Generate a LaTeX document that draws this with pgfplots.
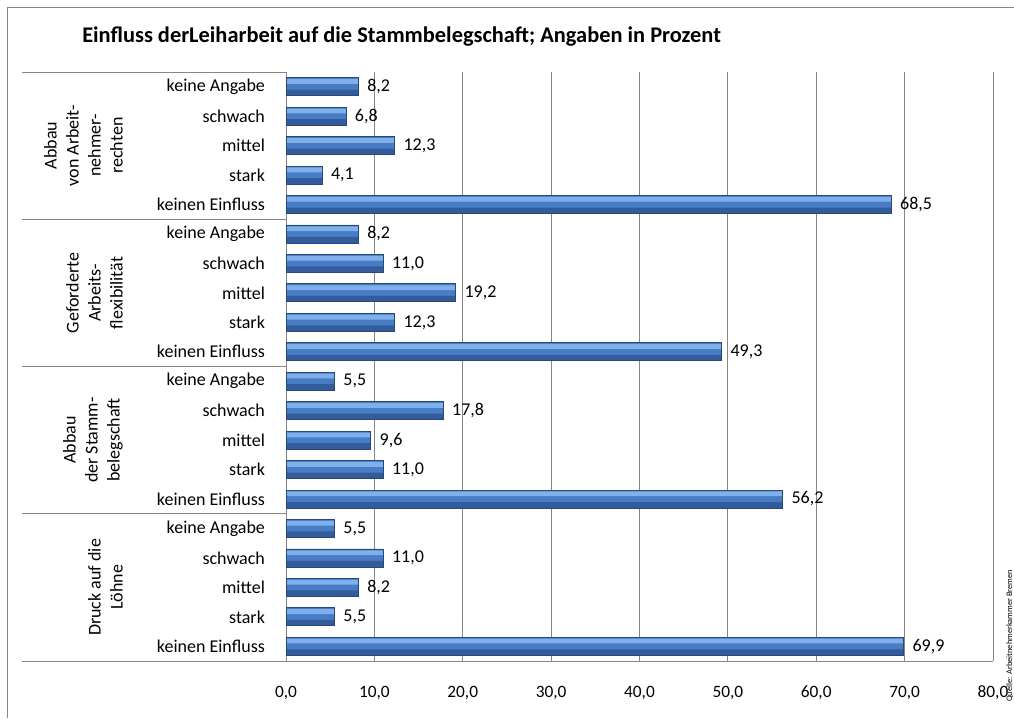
\documentclass[border=0pt]{standalone}
\usepackage{pgfplots}
\pgfplotsset{compat=1.18}
\usepackage{pgfplotstable}
\usepackage{fontspec}
\setmainfont{Carlito}
\pgfkeys{/pgf/number format/assume math mode=true}
\definecolor{barLight}{RGB}{128,176,235}
\definecolor{barMid}{RGB}{72,124,196}
\definecolor{barBot}{RGB}{50,92,155}
\definecolor{barEdge}{RGB}{40,72,120}
\definecolor{gridc}{RGB}{134,134,134}
\pgfplotstableread{
y x
0 8.2
1 6.8
2 12.3
3 4.1
4 68.5
5 8.2
6 11.0
7 19.2
8 12.3
9 49.3
10 5.5
11 17.8
12 9.6
13 11.0
14 56.2
15 5.5
16 11.0
17 8.2
18 5.5
19 69.9
}\datatab
\begin{document}
\begin{tikzpicture}
\path[use as bounding box] (0,0) rectangle (760.5pt,-538.5pt);
\begin{axis}[
  at={(214.5pt,-495.75pt)}, anchor=south west,
  scale only axis, width=530.25pt, height=441.75pt,
  xbar,
  xmin=0, xmax=80, ymin=-0.5, ymax=19.5, y dir=reverse,
  enlargelimits=false,
  axis x line*=bottom, axis y line*=left,
  axis line style={gridc, line width=0.75pt, -},
  xtick={0,10,...,80}, ytick={0,...,19},
  yticklabels={keine Angabe,schwach,mittel,stark,keinen Einfluss,
               keine Angabe,schwach,mittel,stark,keinen Einfluss,
               keine Angabe,schwach,mittel,stark,keinen Einfluss,
               keine Angabe,schwach,mittel,stark,keinen Einfluss},
  xmajorgrids, major grid style={gridc, line width=0.75pt},
  tick style={draw=none},
  /pgf/number format/fixed, /pgf/number format/fixed zerofill,
  /pgf/number format/precision=1, /pgf/number format/use comma,
  xticklabel style={font=\fontsize{13}{15}\selectfont, anchor=center, yshift=-24pt},
  yticklabel style={font=\fontsize{13.5}{15}\selectfont, xshift=-8pt},
  point meta=x,
]
% base fill
\addplot[xbar, bar width=13.5pt, bar shift=0pt, draw=none, fill=barMid] table[x=x, y=y] {\datatab};
% lower darker band
\addplot[xbar, bar width=4.5pt, bar shift=-4.5pt, draw=none, fill=barBot] table[x=x, y=y] {\datatab};
% upper light band
\addplot[xbar, bar width=3.6pt, bar shift=3.9pt, draw=none, fill=barLight] table[x=x, y=y] {\datatab};
% outline + labels
\addplot[xbar, bar width=13.5pt, bar shift=0pt, draw=barEdge, line width=0.6pt, fill=none,
  nodes near coords,
  nodes near coords style={font=\fontsize{13.5}{15}\selectfont, anchor=west, xshift=3pt, text=black}]
  table[x=x, y=y] {\datatab};
\end{axis}
\begin{scope}[x=0.75pt, y=-0.75pt]
  \draw[gridc, line width=0.75pt] (7,718) -- (7,7) -- (1014,7);
  \foreach \yy in {72,219.25,366.5,513.75,661}
    \draw[gridc, line width=0.75pt] (22,\yy) -- (286,\yy);
  \node[anchor=west, inner sep=0, font=\bfseries\fontsize{16.8}{19}\selectfont] at (82,37)
    {Einfluss derLeiharbeit auf die Stammbelegschaft; Angaben in Prozent};
  \begin{scope}[every node/.style={rotate=90, anchor=south, align=center, inner sep=0,
      font=\fontsize{13.5}{16.5}\selectfont}]
    \node at (123,145.6) {Abbau\\von Arbeit-\\nehmer-\\rechten};
    \node at (123,292.9) {Geforderte\\Arbeits-\\flexibilität};
    \node at (123,440.1) {Abbau\\der Stamm-\\belegschaft};
    \node at (123,587.4) {Druck auf die\\Löhne};
  \end{scope}
  \node[rotate=90, anchor=base west, inner sep=0, font=\fontsize{6.3}{7}\selectfont] at (1012,702)
    {Quelle: Arbeitnehmerkammer Bremen};
\end{scope}
\end{tikzpicture}
\end{document}
